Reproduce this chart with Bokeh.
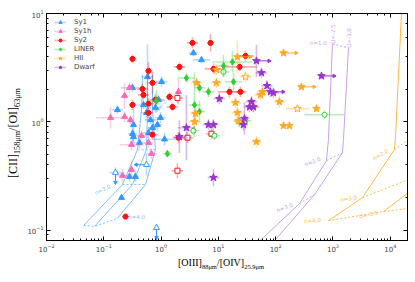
import numpy as np
from bokeh.plotting import figure
from bokeh.models import ColumnDataSource, LogAxis, Legend, LegendItem, CustomJSTickFormatter, Div
from bokeh.layouts import row, column
from bokeh.embed import file_html
from bokeh.resources import INLINE
from bokeh.core.properties import value

# ---------------- data ----------------
# Sy1 (filled)
sy1_x = [3.67, 5.07, 1.02, 0.579, 0.173, 0.317, 0.330, 0.330, 0.317, 0.420, 0.603, 0.281, 0.357, 0.204, 0.653, 0.798, 0.493, 0.977, 0.865, 0.708, 0.556, 0.901, 1.15]
sy1_y = [4.32, 3.73, 2.34, 2.60, 1.29, 2.06, 0.938, 0.727, 0.775, 0.640, 0.792, 0.311, 0.311, 0.199, 1.04, 1.35, 1.43, 1.09, 0.938, 0.881, 1.21, 1.60, 0.69]
sy1_xe = [0.08, 0.15, 0.1, 0.1, 0.1, 0.2, 0.05, 0.05, 0.08, 0.1, 0.1, 0.05, 0.05, 0.03, 0.1, 0.1, 0.1, 0.1, 0.08, 0.08, 0.1, 0.1, 0.2]
sy1_ye = [0.03, 0.03, 0.05, 0.3, 0.04, 0.04, 0.15, 0.06, 0.08, 0.05, 0.05, 0.05, 0.05, 0.02, 0.04, 0.05, 0.04, 0.05, 0.06, 0.06, 0.05, 0.05, 0.06]
# Sy1 limits (open)
sy1o_x = [0.160, 0.556, 0.832]
sy1o_y = [0.339, 0.401, 0.105]
sy1o_xe = [0.1, 0.05, 0.03]
sy1o_ye = [0.05, 0.1, 0.03]
sy1o_dir = ["down", "left", "down"]

# Sy1h
sy1h_x = [0.131, 0.230, 0.281, 0.230, 0.292, 0.304, 0.455, 0.212, 0.304, 0.679, 0.603, 2.01]
sy1h_y = [1.09, 1.74, 2.06, 1.11, 1.04, 0.614, 0.743, 0.318, 0.361, 0.507, 0.640, 1.89]
sy1h_xe = [0.25, 0.05, 0.05, 0.05, 0.05, 0.2, 0.1, 0.1, 0.05, 0.1, 0.08, 0.05]
sy1h_ye = [0.1, 0.12, 0.05, 0.05, 0.04, 0.05, 0.05, 0.06, 0.08, 0.05, 0.05, 0.12]

# Sy2
sy2_x = [7.28, 3.53, 2.09, 0.603, 0.708, 0.473, 1.40, 1.58, 0.603, 0.603, 0.317, 0.317, 0.239, 0.708, 2.01, 29.7, 23.4, 8.21, 15.6, 24.3, 0.493, 0.798]
sy2_y = [5.35, 5.35, 3.21, 2.95, 2.29, 2.01, 1.70, 1.37, 1.47, 1.21, 3.81, 1.43, 0.133, 0.759, 0.712, 4.06, 3.21, 3.08, 1.89, 1.89, 1.77, 1.60]
sy2_xe = [0.05, 0.1, 0.1, 0.05, 0.1, 0.1, 0.05, 0.1, 0.1, 0.08, 0.05, 0.05, 0.05, 0.1, 0.1, 0.15, 0.3, 0.15, 0.2, 0.1, 0.1, 0.1]
sy2_ye = [0.08, 0.05, 0.04, 0.08, 0.1, 0.05, 0.04, 0.04, 0.05, 0.05, 0.04, 0.05, 0.03, 0.05, 0.05, 0.05, 0.04, 0.05, 0.05, 0.05, 0.05, 0.05]
sy2o_x = [1.93, 2.89, 7.58, 1.93]
sy2o_y = [1.66, 0.712, 0.775, 0.353]
sy2o_xe = [0.1, 0.1, 0.1, 0.1]
sy2o_ye = [0.05, 0.05, 0.05, 0.07]

# LINER
lin_x = [2.77, 17.6, 12.3, 4.68, 6.71, 0.832, 3.83, 4.68, 1.29, 18.4]
lin_y = [2.54, 3.57, 3.28, 2.06, 1.89, 1.56, 1.43, 1.24, 0.507, 2.34]
lin_xe = [0.15, 0.35, 0.1, 0.1, 0.1, 0.1, 0.1, 0.1, 0.08, 0.15]
lin_ye = [0.04, 0.1, 0.1, 0.05, 0.05, 0.1, 0.3, 0.1, 0.03, 0.08]
lino_x = [3.67, 8.55, 23.4, 12.3, 29.7, 711]
lino_y = [0.826, 0.743, 1.0, 2.89, 1.02, 1.16]
lino_xe = [0.1, 0.1, 0.1, 0.1, 0.1, 0.35]
lino_ye = [0.04, 0.04, 0.05, 0.05, 0.05, 0.04]

# HII
hii_x = [21.5, 9.27, 4.15, 9.27, 137, 282, 116, 515, 137, 174, 58.9, 54.3, 19.9, 21.5, 41.0, 22.4, 46.2, 3.98, 3.83]
hii_y = [3.97, 3.02, 2.29, 2.29, 4.32, 2.10, 1.53, 1.32, 0.919, 0.919, 1.89, 1.77, 1.50, 1.21, 1.37, 1.02, 0.654, 1.19, 1.0]
hii_xe = [0.05, 0.1, 0.1, 0.1, 0.05, 0.05, 0.1, 0.05, 0.05, 0.05, 0.1, 0.1, 0.1, 0.1, 0.1, 0.1, 0.08, 0.1, 0.1]
hii_ye = [0.15, 0.05, 0.05, 0.05, 0.03, 0.03, 0.05, 0.03, 0.03, 0.03, 0.05, 0.05, 0.05, 0.05, 0.05, 0.05, 0.05, 0.05, 0.05]
hii_arrow = ["right", "", "", "", "right", "right", "", "", "", "", "", "", "", "", "", "", "", "", ""]
hiio_x = [29.7, 240]
hiio_y = [2.60, 1.32]
hiio_xe = [0.1, 0.2]
hiio_ye = [0.05, 0.03]

# Dwarf
dw_x = [46.2, 56.5, 70.5, 81.1, 91.6, 37.8, 34.9, 41.0, 28.5, 27.4, 630, 2.77, 2.09, 6.71, 8.21, 8.21, 10.4]
dw_y = [3.65, 2.83, 2.15, 1.89, 1.85, 1.53, 1.37, 1.37, 1.07, 0.938, 2.65, 0.881, 0.727, 0.938, 0.938, 0.305, 1.63]
dw_xe = [0.05, 0.1, 0.1, 0.05, 0.1, 0.1, 0.1, 0.1, 0.1, 0.08, 0.05, 0.15, 0.1, 0.1, 0.1, 0.1, 0.1]
dw_ye = [0.15, 0.05, 0.05, 0.05, 0.05, 0.05, 0.05, 0.05, 0.15, 0.05, 0.03, 0.3, 0.15, 0.05, 0.05, 0.08, 0.05]
dw_arrow = ["right", "", "", "right", "", "", "", "", "", "", "right", "", "", "", "", "", ""]

# model grids: solid tracks and dashed connectors
blue_tracks = [
    ([0.0443, 0.212, 0.387, 0.455, 0.473], [0.110, 0.263, 0.552, 1.29, 2.71]),
    ([0.0689, 0.317, 0.556, 0.579, 0.579], [0.108, 0.263, 0.552, 1.29, 2.71]),
    ([0.173, 0.535, 0.798, 0.708, 0.708], [0.128, 0.263, 0.552, 1.29, 2.71]),
]
blue_dashes = [
    ([0.0443, 0.0689, 0.173], [0.110, 0.108, 0.128]),
    ([0.212, 0.317, 0.535], [0.263, 0.263, 0.263]),
    ([0.387, 0.556, 0.798], [0.552, 0.552, 0.552]),
]
purple_tracks = [
    ([980, 834, 770, 260, 61.2, 36.3], [5.24, 0.683, 0.437, 0.175, 0.0853, 0.066]),
    ([1866, 1525, 1465, 475, 107, 72], [4.81, 0.683, 0.518, 0.212, 0.0853, 0.066]),
]
purple_dashes = [
    ([980, 1866], [5.24, 4.81]),
    ([770, 1465], [0.437, 0.518]),
    ([260, 475], [0.175, 0.212]),
]
orange_tracks = [
    ([15700, 12300, 11800, 3270, 834], [10.0, 0.683, 0.552, 0.199, 0.122]),
    ([7600, 20800], [0.148, 0.222]),
]
orange_dashes = [
    ([11800, 20800], [0.552, 0.683]),
    ([3270, 20800], [0.199, 0.292]),
    ([834, 7600, 20800], [0.122, 0.148, 0.158]),
]
model_text = ["n=3.0", "n=4.0", "U=-2.0",
              "U=-2.5", "U=-3.0", "n=1.0", "n=2.0", "n=3.0",
              "n=2.0", "n=3.0", "n=4.0", "U=-3.5"]
model_tx = [0.0948, 0.372, 1.06, 1020, 1941, 558, 439, 143, 6745, 1866, 439, 4169]
model_ty = [0.236, 0.133, 1.47, 6.47, 5.94, 5.35, 0.428, 0.161, 0.497, 0.195, 0.122, 0.139]
model_ta = [25, 0, 50, 90, 90, 0, 20, 20, 30, 8, 5, 12]
model_tc = ["blue"] * 3 + ["purple"] * 5 + ["orange"] * 4

# ---------------- styling ----------------
C = dict(sy1="#3399ff", sy1h="#ff69b4", sy2="#ff1111", liner="#33cc33",
         hii="#ffaa22", dwarf="#9933cc")
MC = dict(blue="#7fbfff", purple="#c9a0ee", orange="#ffba45")

YDIV_W = 22
p = figure(width=410 - YDIV_W, height=254, x_axis_type="log", y_axis_type="log",
           x_range=(1e-2, 2e4), y_range=(0.08, 10),
           output_backend="svg", toolbar_location=None,
           min_border_left=46 - YDIV_W, min_border_right=3, min_border_top=13, min_border_bottom=14)
p.xgrid.visible = False
p.ygrid.visible = False
p.outline_line_color = "black"
p.outline_line_width = 1

for ax in (p.xaxis[0], p.yaxis[0]):
    ax.major_tick_in = 4
    ax.major_tick_out = 0
    ax.minor_tick_in = 2
    ax.minor_tick_out = 0
    ax.axis_line_color = "black"
    ax.major_label_text_font = "DejaVu Sans"
    ax.major_label_text_font_size = "7px"
    ax.major_label_standoff = 3
for loc in ("right", "above"):
    ax = LogAxis(major_tick_in=4, major_tick_out=0, minor_tick_in=2, minor_tick_out=0,
                 major_label_standoff=0, major_label_text_font_size="7px",
                 formatter=CustomJSTickFormatter(code="return ''"))
    p.add_layout(ax, loc)

# model grids
for xs, ys in blue_tracks:
    p.line(xs, ys, line_color=MC["blue"], line_width=1)
for xs, ys in blue_dashes:
    p.line(xs, ys, line_color=MC["blue"], line_width=1, line_dash="2 2")
for xs, ys in purple_tracks:
    p.line(xs, ys, line_color=MC["purple"], line_width=1)
for xs, ys in purple_dashes:
    p.line(xs, ys, line_color=MC["purple"], line_width=1, line_dash="2 2")
for xs, ys in orange_tracks:
    p.line(xs, ys, line_color=MC["orange"], line_width=1)
for xs, ys in orange_dashes:
    p.line(xs, ys, line_color=MC["orange"], line_width=1, line_dash="2 2")

tsrc = ColumnDataSource(dict(x=model_tx, y=model_ty, t=model_text,
                             a=[np.deg2rad(a) for a in model_ta],
                             c=[MC[c] for c in model_tc]))
p.text("x", "y", text="t", angle="a", text_color="c", source=tsrc,
       text_font=value("DejaVu Sans"), text_font_size="5.5px",
       text_align="center", text_baseline="middle")


def draw(xs, ys, xe, ye, color, marker, size, fill=True, arrows=None):
    x = np.array(xs, float)
    y = np.array(ys, float)
    xe = np.array(xe, float)
    ye = np.array(ye, float)
    src = ColumnDataSource(dict(x=x, y=y, x0=x * 10 ** -xe, x1=x * 10 ** xe,
                                y0=y * 10 ** -ye, y1=y * 10 ** ye))
    rx = p.segment("x0", "y", "x1", "y", source=src, line_color=color, line_alpha=0.35, line_width=1.6)
    p.segment("x", "y0", "x", "y1", source=src, line_color=color, line_alpha=0.35, line_width=1.6)
    if arrows:
        ax0, ay0, ax1, ay1, ang = [], [], [], [], []
        for xi, yi, d in zip(x, y, arrows):
            if d == "right":
                ax0.append(xi); ay0.append(yi); ax1.append(xi * 10 ** 0.22); ay1.append(yi); ang.append(-np.pi / 2)
            elif d == "left":
                ax0.append(xi); ay0.append(yi); ax1.append(xi * 10 ** -0.18); ay1.append(yi); ang.append(np.pi / 2)
            elif d == "down":
                ax0.append(xi); ay0.append(yi); ax1.append(xi); ay1.append(yi * 10 ** -0.09); ang.append(np.pi)
        if ax0:
            p.segment(ax0, ay0, ax1, ay1, line_color=color, line_width=1)
            p.scatter(ax1, ay1, marker="triangle", angle=ang, size=3.5,
                      fill_color=color, line_color=color)
    r = p.scatter("x", "y", source=src, marker=marker, size=size,
                  fill_color=color if fill else "white", line_color=color, line_width=1)
    return [rx, r]


r_sy1 = draw(sy1_x, sy1_y, sy1_xe, sy1_ye, C["sy1"], "triangle", 6)
draw(sy1o_x, sy1o_y, sy1o_xe, sy1o_ye, C["sy1"], "triangle", 6, fill=False, arrows=sy1o_dir)
r_sy1h = draw(sy1h_x, sy1h_y, sy1h_xe, sy1h_ye, C["sy1h"], "triangle", 6)
draw(sy2o_x, sy2o_y, sy2o_xe, sy2o_ye, C["sy2"], "square", 5, fill=False)
r_sy2 = draw(sy2_x, sy2_y, sy2_xe, sy2_ye, C["sy2"], "hex", 5.5)
draw(lino_x, lino_y, lino_xe, lino_ye, C["liner"], "circle", 5, fill=False)
r_lin = draw(lin_x, lin_y, lin_xe, lin_ye, C["liner"], "diamond", 6.5)
draw(hiio_x, hiio_y, hiio_xe, hiio_ye, C["hii"], "star", 8, fill=False)
r_hii = draw(hii_x, hii_y, hii_xe, hii_ye, C["hii"], "star", 8, arrows=hii_arrow)
r_dw = draw(dw_x, dw_y, dw_xe, dw_ye, C["dwarf"], "star", 8, arrows=dw_arrow)

legend = Legend(items=[LegendItem(label="Sy1", renderers=r_sy1),
                       LegendItem(label="Sy1h", renderers=r_sy1h),
                       LegendItem(label="Sy2", renderers=r_sy2),
                       LegendItem(label="LINER", renderers=r_lin),
                       LegendItem(label="HII", renderers=r_hii),
                       LegendItem(label="Dwarf", renderers=r_dw)],
                location=(5, 166), border_line_alpha=0, background_fill_alpha=0,
                label_text_font="DejaVu Sans", label_text_font_size="7px",
                glyph_height=8, glyph_width=12, label_height=8, spacing=1,
                padding=3, margin=0, label_standoff=8)
p.add_layout(legend)

# axis titles as HTML with real subscripts
xtitle = Div(text=(
    '<div style="padding-left:156px;padding-top:1px;font-family:\'Liberation Serif\';'
    'font-size:10px;line-height:12px;white-space:nowrap;color:#000">'
    '[OIII]<sub style="font-size:6.5px">88μm</sub>/[OIV]<sub style="font-size:6.5px">25.9μm</sub></div>'),
    width=410 - YDIV_W, height=26, margin=0)
ytitle = Div(text=(
    '<div style="position:absolute;left:6px;top:178px;transform:rotate(-90deg);'
    'transform-origin:left top;font-family:\'Liberation Serif\';font-size:12px;'
    'line-height:14px;white-space:nowrap;color:#000">'
    '[CII]<sub style="font-size:8.2px">158μm</sub>/[OI]<sub style="font-size:8.2px">63μm</sub></div>'),
    width=YDIV_W, height=254, margin=0)

layout = row(ytitle, column(p, xtitle, spacing=0), spacing=0)

open("out.html", "w").write(file_html(layout, INLINE))
